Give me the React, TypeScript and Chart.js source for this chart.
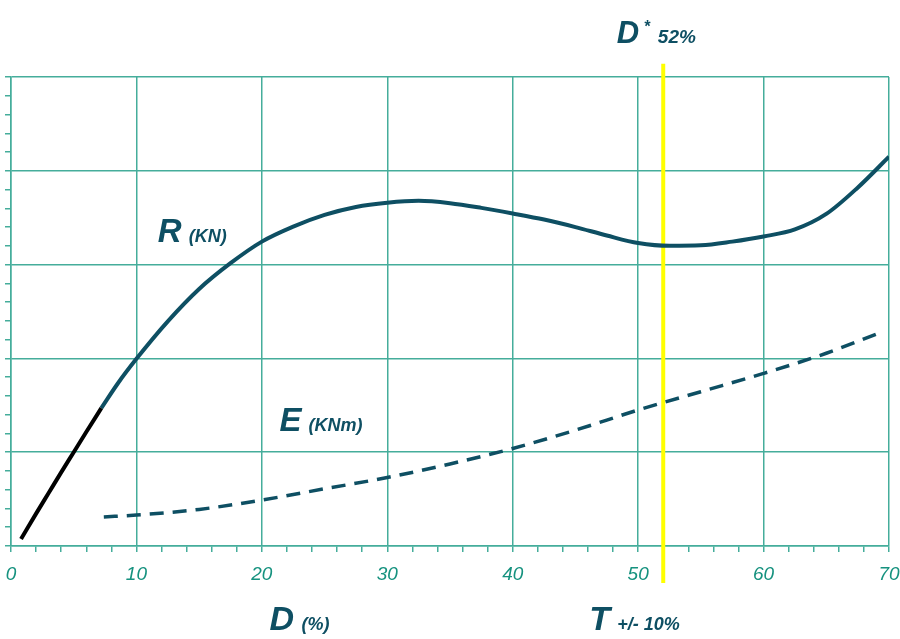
import React, { useEffect, useRef } from "react";
import { Chart, registerables } from "chart.js";

Chart.register(...registerables);

// R curve: black starting segment
const rStartX = [0.8, 2, 3, 4, 5, 6, 7.2];
const rStartY = [1.5, 6.9, 11.3, 15.7, 20.0, 24.3, 29.4];
// R curve: main teal part
const rMainX = [7.2, 8.5, 10, 12.5, 15, 17.5, 20, 22.5, 25, 27.5, 30, 32.5, 35, 37.5, 40, 42.5, 45, 47.5, 50, 52.5, 55, 57.5, 60, 62.5, 65, 67.5, 70];
const rMainY = [29.4, 34.6, 39.9, 47.9, 54.8, 60.3, 64.9, 68.1, 70.6, 72.3, 73.2, 73.6, 73.1, 72.1, 70.9, 69.6, 68.0, 66.2, 64.6, 64.0, 64.1, 64.9, 66.0, 67.5, 70.8, 76.4, 83.0];
// E curve (dashed)
const eX = [7.4, 10, 15, 20, 25, 30, 35, 40, 45, 50, 55, 60, 65, 69.2];
const eY = [6.2, 6.6, 7.8, 9.8, 12.2, 14.6, 17.5, 20.8, 24.7, 29.0, 32.9, 36.8, 41.1, 45.4];

const xTickLabels = ["0", "10", "20", "30", "40", "50", "60", "70"];
const markerX = 52;

const DARK = "#0e4f63";
const GRID = "#45ad9b";
const TICKTEXT = "#16927f";

type Lbl = { x: number; y: number; parts: { t: string; font: string; dx: number; dy: number }[] };

const labels: Lbl[] = [
  { x: 11.7, y: 64.8, parts: [
    { t: "R", font: 'italic bold 33px "Liberation Sans"', dx: 0, dy: 0 },
    { t: "(KN)", font: 'italic bold 18px "Liberation Sans"', dx: 31, dy: 0 },
  ] },
  { x: 21.4, y: 24.5, parts: [
    { t: "E", font: 'italic bold 33px "Liberation Sans"', dx: 0, dy: 0 },
    { t: "(KNm)", font: 'italic bold 18px "Liberation Sans"', dx: 29, dy: 0 },
  ] },
  { x: 48.3, y: 107.2, parts: [
    { t: "D", font: 'italic bold 31px "Liberation Sans"', dx: 0, dy: 0 },
    { t: "*", font: 'italic bold 16px "Liberation Sans"', dx: 27, dy: -11 },
    { t: "52%", font: 'italic bold 19px "Liberation Sans"', dx: 41, dy: 0 },
  ] },
  { x: 20.6, y: -17.9, parts: [
    { t: "D", font: 'italic bold 34px "Liberation Sans"', dx: 0, dy: 0 },
    { t: "(%)", font: 'italic bold 18px "Liberation Sans"', dx: 32, dy: 0 },
  ] },
  { x: 46.1, y: -17.9, parts: [
    { t: "T", font: 'italic bold 34px "Liberation Sans"', dx: 0, dy: 0 },
    { t: "+/- 10%", font: 'italic bold 18px "Liberation Sans"', dx: 28, dy: 0 },
  ] },
];

const overlay = {
  id: "overlay",
  beforeDatasetsDraw(chart: any) {
    const { ctx, scales } = chart;
    const x = scales.x.getPixelForValue(markerX);
    ctx.save();
    ctx.strokeStyle = "#ffff00";
    ctx.lineWidth = 4;
    ctx.beginPath();
    ctx.moveTo(x, scales.y.getPixelForValue(102.8));
    ctx.lineTo(x, scales.y.getPixelForValue(-7.9));
    ctx.stroke();
    ctx.restore();
  },
  afterDraw(chart: any) {
    const { ctx, scales } = chart;
    ctx.save();
    ctx.fillStyle = DARK;
    ctx.textBaseline = "alphabetic";
    ctx.textAlign = "left";
    for (const l of labels) {
      const px = scales.x.getPixelForValue(l.x);
      const py = scales.y.getPixelForValue(l.y);
      for (const p of l.parts) {
        ctx.font = p.font;
        ctx.fillText(p.t, px + p.dx, py + p.dy);
      }
    }
    ctx.restore();
  },
};

export default function App() {
  const ref = useRef<HTMLCanvasElement>(null);
  useEffect(() => {
    if (!ref.current) return;
    const chart = new Chart(ref.current, {
      type: "line",
      data: {
        datasets: [
          {
            data: rStartX.map((x, i) => ({ x, y: rStartY[i] })),
            borderColor: "#000000",
            borderWidth: 4,
            pointRadius: 0,
            cubicInterpolationMode: "monotone",
            fill: false,
          },
          {
            data: rMainX.map((x, i) => ({ x, y: rMainY[i] })),
            borderColor: DARK,
            borderWidth: 4,
            pointRadius: 0,
            cubicInterpolationMode: "monotone",
            fill: false,
          },
          {
            data: eX.map((x, i) => ({ x, y: eY[i] })),
            borderColor: DARK,
            borderWidth: 3.5,
            borderDash: [14, 9],
            pointRadius: 0,
            cubicInterpolationMode: "monotone",
            fill: false,
          },
        ],
      },
      options: {
        animation: false,
        responsive: false,
        devicePixelRatio: 1,
        layout: { padding: { left: 5, top: 77, right: 11, bottom: 0 } },
        plugins: { legend: { display: false }, tooltip: { enabled: false } },
        scales: {
          x: {
            type: "linear",
            min: 0,
            max: 70,
            afterFit: (s: any) => { s.height = 93; s.paddingLeft = 0; s.paddingRight = 0; },
            border: { color: GRID, width: 1.5 },
            grid: {
              color: (c: any) => (c.tick && c.tick.value % 10 === 0 ? GRID : "rgba(0,0,0,0)"),
              tickColor: GRID,
              lineWidth: 1.5,
              tickLength: 6,
            },
            ticks: {
              stepSize: 2,
              autoSkip: false,
              maxRotation: 0,
              padding: 11,
              color: TICKTEXT,
              font: { family: "Liberation Sans", size: 19, style: "italic" },
              callback: (v: any) => (Number(v) % 10 === 0 ? xTickLabels[Number(v) / 10] : ""),
            },
          },
          y: {
            type: "linear",
            min: 0,
            max: 100,
            afterFit: (s: any) => { s.width = 6; s.paddingTop = 0; s.paddingBottom = 0; },
            border: { color: GRID, width: 1.5 },
            grid: {
              color: (c: any) => (c.tick && c.tick.value % 20 === 0 ? GRID : "rgba(0,0,0,0)"),
              tickColor: GRID,
              lineWidth: 1.5,
              tickLength: 6,
            },
            ticks: { stepSize: 4, display: false },
          },
        },
      },
      plugins: [overlay],
    });
    return () => chart.destroy();
  }, []);
  return (
    <div style={{ position: "absolute", left: 0, top: 0, width: 900, height: 639, background: "#fff" }}>
      <canvas ref={ref} width={900} height={639} style={{ width: 900, height: 639, display: "block" }} />
    </div>
  );
}
